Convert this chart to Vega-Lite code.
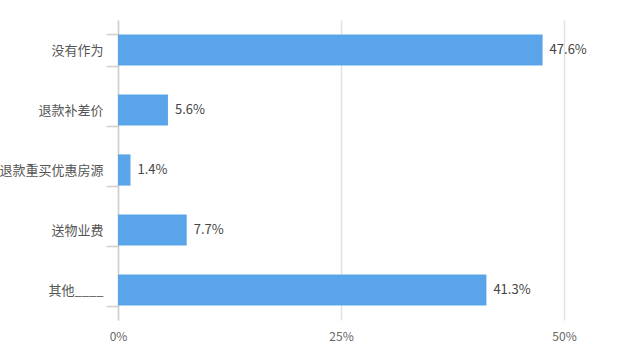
{
  "$schema": "https://vega.github.io/schema/vega-lite/v6.json",
  "width": 446,
  "height": 300,
  "autosize": {"type": "none"},
  "padding": {"left": 118, "top": 20, "right": 76, "bottom": 38},
  "background": "white",
  "config": {
    "view": {"stroke": null},
    "font": "Noto Sans CJK SC"
  },
  "data": {
    "values": [
      {"category": "没有作为", "value": 0.476, "label": "47.6%"},
      {"category": "退款补差价", "value": 0.056, "label": "5.6%"},
      {"category": "退款重买优惠房源", "value": 0.014, "label": "1.4%"},
      {"category": "送物业费", "value": 0.077, "label": "7.7%"},
      {"category": "其他____", "value": 0.413, "label": "41.3%"}
    ]
  },
  "encoding": {
    "y": {
      "field": "category",
      "type": "nominal",
      "sort": null,
      "scale": {"paddingInner": 0.48, "paddingOuter": 0.24},
      "axis": {
        "title": null,
        "tickBand": "extent",
        "tickSize": 12,
        "tickColor": "#cfcfcf",
        "tickWidth": 1.5,
        "domainColor": "#cfcfcf",
        "domainWidth": 1.5,
        "labelPadding": 3,
        "labelFontSize": 13,
        "labelColor": "#555555",
        "labelLimit": 0
      }
    },
    "x": {
      "field": "value",
      "type": "quantitative",
      "scale": {"domain": [0, 0.5], "nice": false},
      "axis": {
        "title": null,
        "format": ".0%",
        "values": [0, 0.25, 0.5],
        "grid": true,
        "gridColor": "#e3e3e3",
        "gridWidth": 1.5,
        "domain": false,
        "ticks": false,
        "labelFlush": false,
        "labelPadding": 11,
        "labelFontSize": 12,
        "labelColor": "#666666"
      }
    }
  },
  "layer": [
    {"mark": {"type": "bar", "color": "#5aa5e9"}},
    {
      "mark": {"type": "text", "align": "left", "dx": 7, "fontSize": 13, "color": "#444444"},
      "encoding": {"text": {"field": "label"}}
    }
  ]
}
